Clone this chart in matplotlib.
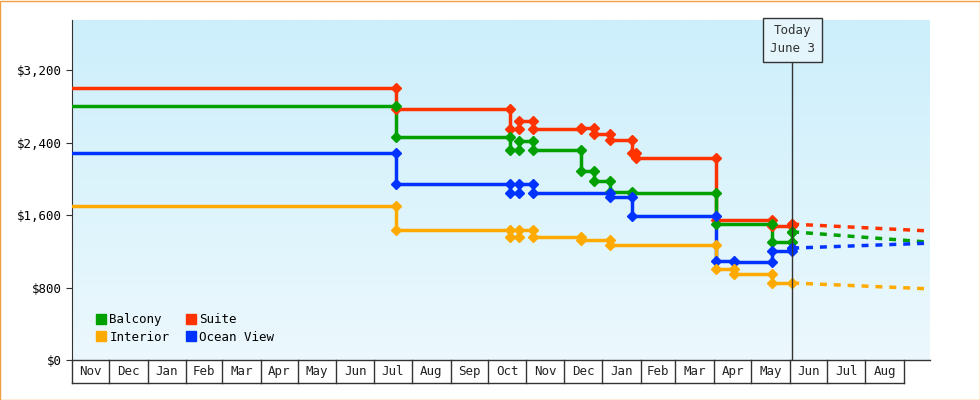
import matplotlib
matplotlib.use("Agg")
import matplotlib.pyplot as plt
import matplotlib.dates as mdates
import matplotlib.transforms as mtrans
import numpy as np
import pandas as pd

# step data: change dates and values (value holds from date until next date)
suite_dates = ["2023-11-01","2024-07-19","2024-10-19","2024-10-26","2024-11-06","2024-12-15","2024-12-25","2025-01-07","2025-01-25","2025-01-28","2025-04-03","2025-05-18","2025-06-03"]
suite_vals  = [3000, 2770, 2550, 2640, 2550, 2560, 2500, 2430, 2290, 2230, 1545, 1480, 1500]
balcony_dates = ["2023-11-01","2024-07-19","2024-10-19","2024-10-26","2024-11-06","2024-12-15","2024-12-25","2025-01-07","2025-01-25","2025-04-03","2025-05-18","2025-06-03"]
balcony_vals  = [2800, 2460, 2320, 2420, 2320, 2090, 1975, 1855, 1845, 1500, 1300, 1415]
ocean_dates = ["2023-11-01","2024-07-19","2024-10-19","2024-10-26","2024-11-06","2025-01-07","2025-01-25","2025-04-03","2025-04-17","2025-05-18","2025-06-03"]
ocean_vals  = [2290, 1940, 1845, 1940, 1845, 1800, 1590, 1090, 1085, 1200, 1235]
interior_dates = ["2023-11-01","2024-07-19","2024-10-19","2024-10-26","2024-11-06","2024-12-15","2025-01-07","2025-04-03","2025-04-17","2025-05-18"]
interior_vals  = [1700, 1435, 1360, 1435, 1360, 1325, 1270, 1000, 950, 850]

today = "2025-06-03"
forecast_end = "2025-09-22"
forecast_end_vals = {"Suite": 1424, "Balcony": 1300, "Ocean View": 1290, "Interior": 785}

colors = {"Balcony": "#00a000", "Suite": "#ff3300", "Interior": "#ffaa00", "Ocean View": "#0033ff"}
series = {
    "Suite": (suite_dates, suite_vals),
    "Balcony": (balcony_dates, balcony_vals),
    "Ocean View": (ocean_dates, ocean_vals),
    "Interior": (interior_dates, interior_vals),
}
month_labels = ["Nov","Dec","Jan","Feb","Mar","Apr","May","Jun","Jul","Aug","Sep","Oct",
                "Nov","Dec","Jan","Feb","Mar","Apr","May","Jun","Jul","Aug"]

plt.rcParams['font.family'] = ['DejaVu Sans Mono']
FS = 9
fig = plt.figure(figsize=(9.8, 4), dpi=100)
fig.patch.set_facecolor("white")
ax = fig.add_axes([72/980, 40/400, 858/980, 340/400])
x0 = mdates.date2num(pd.Timestamp("2023-11-01"))
x1 = mdates.date2num(pd.Timestamp(forecast_end))
ymax = 3753
ax.set_xlim(x0, x1)
ax.set_ylim(0, ymax)
grad = np.linspace(0, 1, 256).reshape(-1, 1)
from matplotlib.colors import LinearSegmentedColormap
cm = LinearSegmentedColormap.from_list("bg", ["#ecf8fd", "#cceffb"])
ax.imshow(grad, aspect="auto", cmap=cm, extent=[x0, x1, 0, ymax], origin="lower", zorder=0)

tnum = mdates.date2num(pd.Timestamp(today))
for name, (ds, vs) in series.items():
    xs = [mdates.date2num(pd.Timestamp(d)) for d in ds]
    c = colors[name]
    px = xs + [tnum]
    pv = vs + [vs[-1]]
    ax.plot(px, pv, drawstyle="steps-post", color=c, lw=2.5, zorder=3)
    mx, my = [], []
    for i in range(1, len(xs)):
        mx += [xs[i], xs[i]]; my += [vs[i-1], vs[i]]
    mx.append(tnum); my.append(vs[-1])
    ax.plot(mx, my, ls="none", marker="D", ms=5, color=c, zorder=4)
    ax.plot([tnum, x1], [vs[-1], forecast_end_vals[name]], color=c, lw=2.5, ls=(0, (2, 2)), zorder=3)

ax.axvline(tnum, ymax=(360-60)/340, color="#333333", lw=1, zorder=5)
ax.text(tnum, ymax - 20 / 0.0906, "Today\nJune 3", ha="center", va="center", fontsize=FS,
        color="#333333", zorder=6, linespacing=1.5,
        bbox=dict(boxstyle="square,pad=0.55", fc="#e4f5fb", ec="#333333", lw=1))

ax.set_yticks([0, 800, 1600, 2400, 3200])
ax.set_yticklabels(["$0", "$800", "$1,600", "$2,400", "$3,200"], fontsize=FS)
ax.tick_params(axis="y", length=4, color="#333333")
ax.set_xticks([])
for s in ["top", "right", "bottom"]:
    ax.spines[s].set_visible(False)
ax.spines["left"].set_color("#333333")

# month boxes below the axis
trans = mtrans.blended_transform_factory(ax.transData, ax.transAxes)
h = -23/340
starts = pd.date_range("2023-11-01", periods=len(month_labels)+1, freq="MS")
ax.plot([x0, x1], [0, 0], transform=trans, color="#333333", lw=1, clip_on=False)
ax.plot([x0, mdates.date2num(starts[-1])], [h, h], transform=trans, color="#333333", lw=1, clip_on=False)
for i, lab in enumerate(month_labels):
    a = mdates.date2num(starts[i]); b = mdates.date2num(starts[i+1])
    ax.plot([a, a], [0, h], transform=trans, color="#333333", lw=1, clip_on=False)
    ax.text((a+b)/2, h/2, lab, transform=trans, ha="center", va="center", fontsize=FS, color="#222222")
ax.plot([mdates.date2num(starts[-1])]*2, [0, h], transform=trans, color="#333333", lw=1, clip_on=False)

from matplotlib.lines import Line2D
handles = [Line2D([], [], ls="none", marker="s", ms=7, color=colors[n]) for n in ["Balcony", "Interior", "Suite", "Ocean View"]]
ax.legend(handles, ["Balcony", "Interior", "Suite", "Ocean View"], ncol=2, loc="lower left",
          bbox_to_anchor=(0.01, 0.015), frameon=False, fontsize=FS, handletextpad=-0.1,
          columnspacing=1.0, labelspacing=0.35, handlelength=1.5)

border = plt.Rectangle((0.0005, 0.001), 0.999, 0.997, transform=fig.transFigure, fill=False, ec="#f0a040", lw=1)
fig.patches.append(border)
fig.savefig("out.png", dpi=100)
